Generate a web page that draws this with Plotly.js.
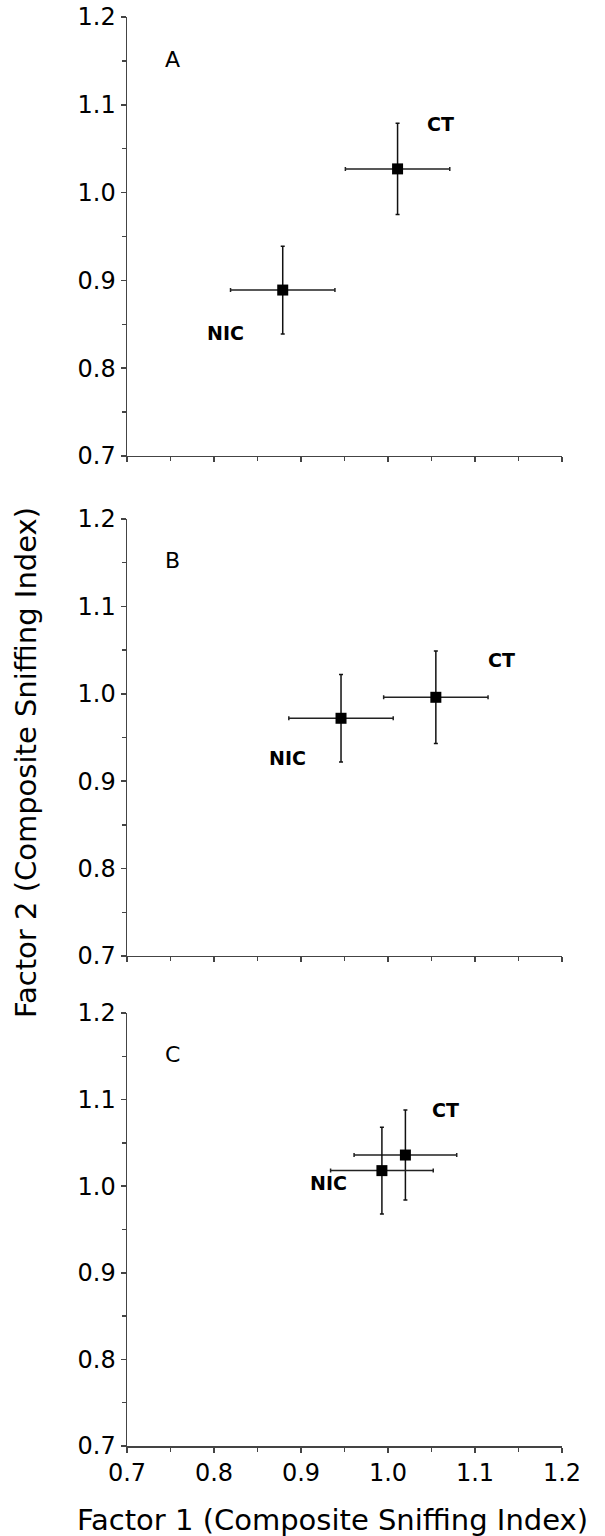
<!DOCTYPE html>
<html>
<head>
<meta charset="utf-8">
<script src="https://cdn.plot.ly/plotly-3.0.1.min.js"></script>
<style>html,body{margin:0;padding:0;background:#fff;}#chart{width:605px;height:1536px;}</style>
</head>
<body>
<div id="chart"></div>
<script>
// Data
const panels = ["A", "B", "C"];
const groups = ["CT", "NIC"];
// Factor 1 (x) means and errors per panel: [CT, NIC]
const xA = [1.011, 0.879];
const yA = [1.027, 0.889];
const exA = [0.060, 0.060];
const eyA = [0.052, 0.050];

const xB = [1.055, 0.946];
const yB = [0.996, 0.972];
const exB = [0.060, 0.060];
const eyB = [0.053, 0.050];

const xC = [1.020, 0.993];
const yC = [1.036, 1.018];
const exC = [0.059, 0.059];
const eyC = [0.052, 0.050];

// Label positions for group names (data coords) per panel: [CT, NIC]
const labXA = [1.060, 0.813], labYA = [1.078, 0.840];
const labXB = [1.131, 0.884], labYB = [1.039, 0.926];
const labXC = [1.066, 0.932], labYC = [1.088, 1.004];

const tickVals = [0.7, 0.8, 0.9, 1.0, 1.1, 1.2];
const tickText = ["0.7", "0.8", "0.9", "1.0", "1.1", "1.2"];

const xs = [xA, xB, xC], ys = [yA, yB, yC], exs = [exA, exB, exC], eys = [eyA, eyB, eyC];
const labXs = [labXA, labXB, labXC], labYs = [labYA, labYB, labYC];

const FONT = "DejaVu Sans";
const traces = [];
const annotations = [];
for (let i = 0; i < 3; i++) {
  const sfx = i === 0 ? "" : String(i + 1);
  traces.push({
    type: "scatter", mode: "markers",
    x: xs[i], y: ys[i],
    xaxis: "x" + sfx, yaxis: "y" + sfx,
    marker: {symbol: "square", size: 11, color: "#000"},
    error_x: {type: "data", array: exs[i], visible: true, color: "#222", thickness: 1.5, width: 2},
    error_y: {type: "data", array: eys[i], visible: true, color: "#111", thickness: 1.5, width: 2},
    showlegend: false, hoverinfo: "skip"
  });
  for (let g = 0; g < groups.length; g++) {
    annotations.push({
      xref: "x" + sfx, yref: "y" + sfx, x: labXs[i][g], y: labYs[i][g],
      text: "<b>" + groups[g] + "</b>", showarrow: false,
      font: {family: FONT, size: 19, color: "#000"}
    });
  }
  annotations.push({
    xref: "x" + sfx, yref: "y" + sfx, x: 0.752, y: 1.152,
    text: panels[i], showarrow: false,
    font: {family: FONT, size: 22, color: "#000"}
  });
}

annotations.push({
  xref: "paper", yref: "paper", x: -0.232, y: 0.478,
  text: "Factor 2 (Composite Sniffing Index)", textangle: -90, showarrow: false,
  xanchor: "center", yanchor: "middle",
  font: {family: FONT, size: 29, color: "#000"}
});
annotations.push({
  xref: "paper", yref: "paper", x: 0.472, y: -0.052,
  text: "Factor 1 (Composite Sniffing Index)", showarrow: false,
  xanchor: "center", yanchor: "middle",
  font: {family: FONT, size: 29, color: "#000"}
});

function xaxis(anchor, showLabels) {
  return {
    anchor: anchor, domain: [0, 1], range: [0.7, 1.2],
    tickvals: tickVals, ticktext: tickText, showticklabels: showLabels,
    ticks: "outside", ticklen: 5, tickwidth: 1.5, tickcolor: "#444",
    minor: {tickvals: [0.75, 0.85, 0.95, 1.05, 1.15], ticks: "outside", ticklen: 4, tickwidth: 1.5, tickcolor: "#444"},
    showline: true, linecolor: "#444", linewidth: 1.5,
    showgrid: false, zeroline: false,
    tickfont: {family: FONT, size: 24, color: "#000"}
  };
}
function yaxis(anchor, domain) {
  return {
    anchor: anchor, domain: domain, range: [0.7, 1.2],
    tickvals: tickVals, ticktext: tickText,
    ticks: "outside", ticklen: 5, tickwidth: 1.5, tickcolor: "#444",
    minor: {tickvals: [0.75, 0.85, 0.95, 1.05, 1.15], ticks: "outside", ticklen: 4, tickwidth: 1.5, tickcolor: "#444"},
    showline: true, linecolor: "#444", linewidth: 1.5,
    showgrid: false, zeroline: false,
    tickfont: {family: FONT, size: 24, color: "#000"}
  };
}

const layout = {
  width: 605, height: 1536,
  margin: {l: 127, r: 43, t: 17, b: 90},
  paper_bgcolor: "#fff", plot_bgcolor: "#fff",
  showlegend: false,
  xaxis: xaxis("y", false),
  yaxis: yaxis("x", [0.6928, 1.0]),
  xaxis2: xaxis("y2", false),
  yaxis2: yaxis("x2", [0.3429, 0.6487]),
  xaxis3: xaxis("y3", true),
  yaxis3: yaxis("x3", [0.0, 0.3030]),
  annotations: annotations
};

Plotly.newPlot("chart", traces, layout, {staticPlot: true, displayModeBar: false});
</script>
</body>
</html>
